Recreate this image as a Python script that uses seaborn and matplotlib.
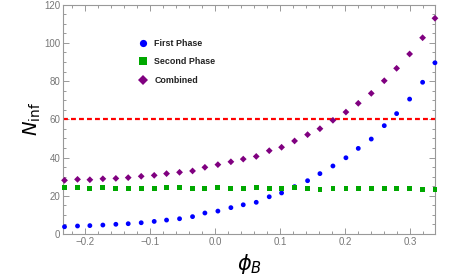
import numpy as np
import pandas as pd
import matplotlib
matplotlib.use('Agg')
import matplotlib.pyplot as plt
import seaborn as sns
from matplotlib.ticker import MultipleLocator

# phi_B sample points
phi_b = [-0.232, -0.212, -0.193, -0.173, -0.153, -0.134, -0.114, -0.094, -0.075, -0.055,
         -0.035, -0.016, 0.004, 0.024, 0.043, 0.063, 0.083, 0.102, 0.122, 0.142,
         0.161, 0.181, 0.201, 0.220, 0.240, 0.260, 0.279, 0.299, 0.319, 0.338]

first_phase = [3.8, 4.2, 4.4, 4.7, 5.1, 5.4, 5.9, 6.6, 7.3, 8.0,
               9.1, 11.0, 12.0, 13.8, 15.3, 16.6, 19.5, 21.5, 24.8, 27.9,
               31.6, 35.6, 39.9, 44.8, 49.7, 56.7, 63.0, 70.6, 79.4, 89.6]

second_phase = [24.2, 24.4, 24.0, 24.3, 24.0, 24.0, 24.0, 24.0, 24.2, 24.2,
                23.9, 23.9, 24.2, 23.9, 24.0, 24.2, 24.0, 24.0, 24.2, 24.0,
                23.5, 23.9, 23.9, 23.7, 23.7, 23.7, 23.7, 23.7, 23.4, 23.4]

combined = [28.1, 28.6, 28.4, 28.9, 29.1, 29.5, 30.2, 30.7, 31.6, 32.3,
            33.0, 34.9, 36.3, 37.8, 39.2, 40.6, 43.6, 45.4, 48.7, 52.0,
            55.1, 59.5, 63.8, 68.4, 73.6, 80.2, 86.7, 94.2, 102.7, 112.9]

threshold = 60

labels = ['First Phase', 'Second Phase', 'Combined']
colors = {'First Phase': '#0000ff', 'Second Phase': '#00a800', 'Combined': '#800080'}
markers = {'First Phase': 'o', 'Second Phase': 's', 'Combined': 'D'}

df = pd.DataFrame({
    'phi': phi_b * 3,
    'N': first_phase + second_phase + combined,
    'series': [labels[0]] * len(phi_b) + [labels[1]] * len(phi_b) + [labels[2]] * len(phi_b),
})

sns.set_theme(style='ticks')
plt.rcParams['font.family'] = ['Liberation Sans', 'DejaVu Sans']
plt.rcParams['mathtext.fontset'] = 'dejavusans'

fig = plt.figure(figsize=(4.58, 2.75), dpi=100)
ax = fig.add_axes([0.1376, 0.149, 0.8128, 0.834])

# dashed threshold line
ax.axhline(threshold, color='#ff0000', lw=1.6, ls=(0, (2.2, 1.4)), zorder=1)

ax = sns.scatterplot(data=df, x='phi', y='N', hue='series', style='series',
                     palette=colors, markers=markers, s=12, linewidth=0,
                     ax=ax, zorder=3, clip_on=False)

ax.set_xlim(-0.2343, 0.3385)
ax.set_ylim(0, 120)

ax.xaxis.set_major_locator(MultipleLocator(0.1))
ax.xaxis.set_minor_locator(MultipleLocator(0.02))
ax.yaxis.set_major_locator(MultipleLocator(20))
ax.yaxis.set_minor_locator(MultipleLocator(5))
ax.xaxis.set_major_formatter(matplotlib.ticker.FuncFormatter(lambda v, p: f'{v:.1f}'.replace('-', '\u2212')))

for sp in ax.spines.values():
    sp.set_color('#999999')
    sp.set_linewidth(0.8)
ax.tick_params(which='both', direction='in', top=True, right=True, colors='#999999',
               labelcolor='#777777', labelsize=7, width=0.7)
ax.tick_params(which='major', length=4, pad=2)
ax.tick_params(which='minor', length=2.2)

ax.set_xlabel(r'$\phi_B$', fontsize=15, color='black', labelpad=4)
ax.set_ylabel(r'$N_{\mathrm{inf}}$', fontsize=14, color='black', labelpad=1)

# legend without frame, placed inside the plot
leg = ax.legend(title=None, frameon=False, loc='upper left', bbox_to_anchor=(0.17, 0.885),
                handletextpad=0.25, labelspacing=1.05, markerscale=1.5,
                prop={'size': 6.4, 'weight': 'bold'})
for t in leg.get_texts():
    t.set_color('#222222')

plt.savefig('out.png', dpi=100)
